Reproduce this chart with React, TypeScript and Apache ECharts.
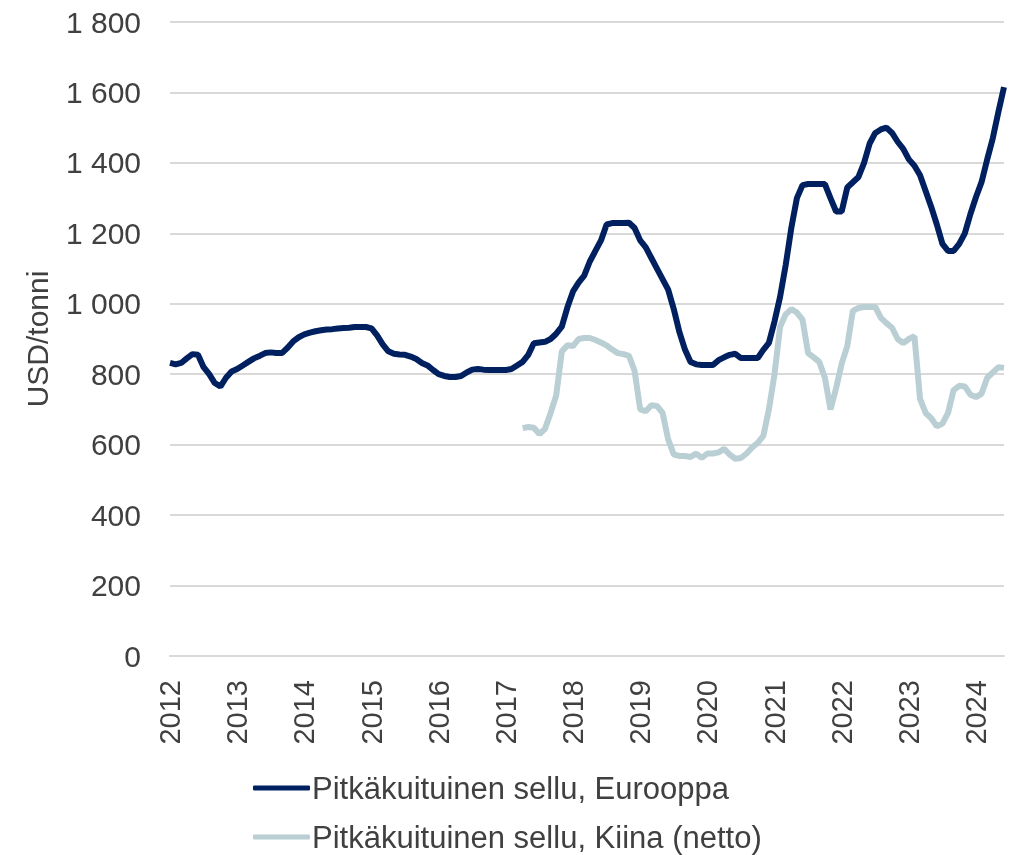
import React, { useEffect, useRef } from "react";
import * as echarts from "echarts";

// Monthly readings, Europe starts January 2012
const europeStart = 2012;
const europeValues = [
  832, 828, 832, 845, 857, 855, 820, 800, 775, 765, 790, 808,
  815, 825, 835, 845, 852, 860, 862, 860, 860, 875, 893, 905,
  913, 918, 922, 925, 927, 928, 930, 931, 932, 934, 934, 934,
  930, 910, 885, 865, 858, 856, 855, 850, 843, 832, 825, 812,
  800, 795, 792, 792, 795, 805, 813, 815, 813, 812, 812, 812,
  812, 815, 825, 835, 855, 888, 890, 892, 900, 915, 935, 990,
  1035, 1060, 1080, 1120, 1150, 1180, 1225, 1229, 1229, 1229, 1230, 1215,
  1180, 1160, 1130, 1100, 1070, 1040, 985, 920, 870, 835, 828, 826,
  826, 826, 840, 848, 855, 858, 846, 846, 846, 846, 869, 889,
  950, 1020, 1110, 1215, 1300, 1337, 1340, 1340, 1340, 1340, 1300, 1262,
  1262, 1330, 1345, 1360, 1400, 1455, 1485, 1495, 1500, 1485, 1460, 1440,
  1410, 1392, 1365, 1320, 1275, 1225, 1170, 1150, 1150, 1170, 1200, 1255,
  1303, 1346, 1410, 1470, 1545, 1615,
];

// Monthly readings, China starts April 2017
const chinaStart = 2017 + 3 / 12;
const chinaValues = [
  647, 650, 648, 630, 645, 690, 740, 865, 882,
  880, 900, 903, 903, 897, 890, 882, 870, 860, 857, 852, 810,
  700, 695, 712, 710, 690, 615, 572, 568, 568, 565, 575, 562,
  575, 575, 578, 588, 572, 560, 562, 575, 592, 605, 625, 700,
  800, 935, 970, 985, 975, 955, 860, 848, 835, 790, 700, 760,
  830, 880, 980, 988, 991, 991, 991, 960, 945, 932, 900, 888,
  900, 908, 730, 690, 675, 652, 660, 690, 755, 767, 765, 742,
  735, 745, 790, 805, 820, 818,
];

const yearTicks = ["2012", "2013", "2014", "2015", "2016", "2017", "2018", "2019", "2020", "2021", "2022", "2023", "2024"];
const seriesNames = ["Pitkäkuituinen sellu, Eurooppa", "Pitkäkuituinen sellu, Kiina (netto)"];
const yAxisTitle = "USD/tonni";

const FONT = "'Liberation Sans', Arial, sans-serif";
const TEXT = "#404040";
const COLORS = ["#002060", "#bacfd4"];

export default function App() {
  const ref = useRef<HTMLDivElement>(null);
  useEffect(() => {
    if (!ref.current) return;
    const chart = echarts.init(ref.current, undefined, { renderer: "svg" });
    const europe = europeValues.map((v, i) => [europeStart + i / 12, v]);
    const china = chinaValues.map((v, i) => [chinaStart + i / 12, v]);
    const xMax = europeStart + (europeValues.length - 1) / 12;
    const legendBase = {
      orient: "horizontal",
      left: 253,
      padding: 0,
      itemWidth: 57,
      itemHeight: 5,
      icon: "roundRect",
      textStyle: { fontSize: 31, lineHeight: 32, color: TEXT, fontFamily: FONT, padding: [0, 0, 0, -3] },
    };
    chart.setOption({
      animation: false,
      textStyle: { fontFamily: FONT },
      grid: { left: 170, right: 9, top: 22, bottom: 199, containLabel: false },
      xAxis: {
        type: "value",
        min: Number(yearTicks[0]),
        max: xMax,
        interval: 1,
        axisLine: { show: true, lineStyle: { color: "#d9d9d9", width: 2 } },
        axisTick: { show: false },
        splitLine: { show: false },
        axisLabel: {
          rotate: 90,
          margin: 24,
          fontSize: 29,
          color: TEXT,
          fontFamily: FONT,
          formatter: (v: number) => {
            const s = String(Math.round(v));
            return yearTicks.includes(s) && Math.abs(v - Math.round(v)) < 1e-6 ? s : "";
          },
        },
      },
      yAxis: {
        type: "value",
        min: 0,
        max: 1800,
        interval: 200,
        name: yAxisTitle,
        nameLocation: "middle",
        nameGap: 118,
        nameTextStyle: { fontSize: 30, color: TEXT, fontFamily: FONT },
        axisLine: { show: false },
        axisTick: { show: false },
        splitLine: { show: true, lineStyle: { color: "#d9d9d9", width: 2 } },
        axisLabel: {
          margin: 29,
          fontSize: 30,
          color: TEXT,
          fontFamily: FONT,
          formatter: (v: number) => String(v).replace(/\B(?=(\d{3})+(?!\d))/g, " "),
        },
      },
      legend: [
        { ...legendBase, top: 772, data: [seriesNames[0]] },
        { ...legendBase, top: 821, data: [seriesNames[1]] },
      ],
      series: [
        {
          name: seriesNames[0],
          type: "line",
          data: europe,
          symbol: "none",
          lineStyle: { color: COLORS[0], width: 6 },
          itemStyle: { color: COLORS[0] },
          z: 3,
        },
        {
          name: seriesNames[1],
          type: "line",
          data: china,
          symbol: "none",
          lineStyle: { color: COLORS[1], width: 6 },
          itemStyle: { color: COLORS[1] },
          z: 2,
        },
      ],
    });
    return () => chart.dispose();
  }, []);
  return <div ref={ref} style={{ position: "fixed", left: 0, top: 0, width: 1013, height: 855 }} />;
}
